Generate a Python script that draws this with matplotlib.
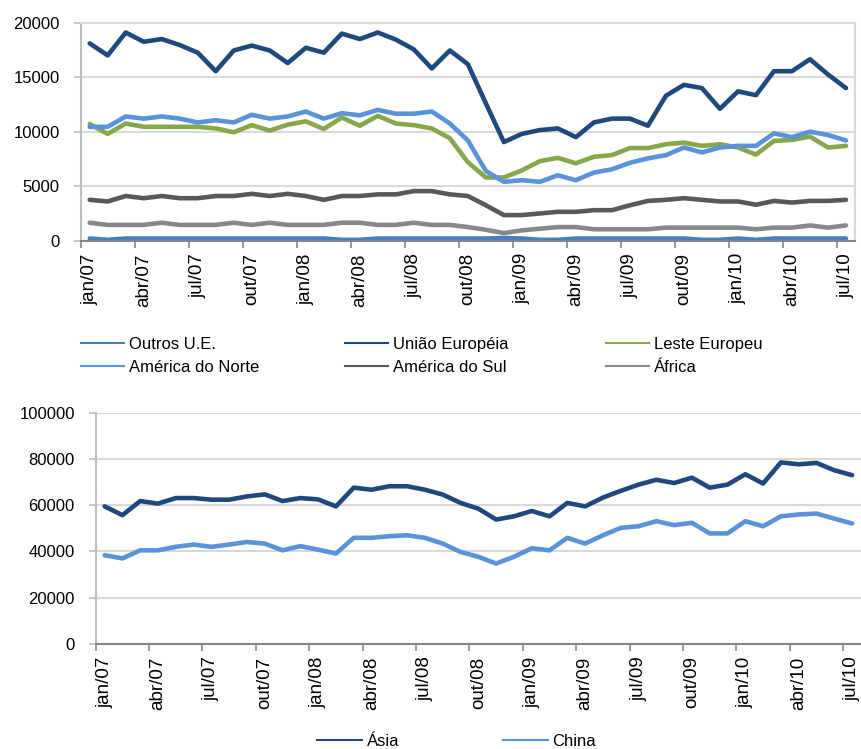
import matplotlib
matplotlib.use("Agg")
import matplotlib.pyplot as plt
from matplotlib.lines import Line2D
from matplotlib.ticker import FixedLocator, NullFormatter, FixedFormatter

plt.rcParams['font.family'] = ['Liberation Sans', 'DejaVu Sans']

months = ["jan", "fev", "mar", "abr", "mai", "jun", "jul", "ago", "set", "out", "nov", "dez"]
categories = [f"{months[i % 12]}/{7 + i // 12:02d}" for i in range(43)]
tick_labels = ["jan/07", "abr/07", "jul/07", "out/07", "jan/08", "abr/08", "jul/08",
               "out/08", "jan/09", "abr/09", "jul/09", "out/09", "jan/10", "abr/10", "jul/10"]

outros_ue = [200, 80, 200, 200, 200, 200, 200, 200, 200, 200, 200, 200, 200, 200, 80,
             80, 200, 200, 200, 200, 200, 200, 200, 250, 200, 80, 80, 200, 200, 200,
             200, 200, 200, 200, 80, 80, 200, 80, 200, 200, 200, 200, 200]
uniao_europeia = [18100, 17000, 19100, 18250, 18500, 17950, 17250, 15550, 17450, 17900,
                  17450, 16300, 17700, 17250, 19000, 18500, 19100, 18450, 17550, 15800,
                  17450, 16200, 12600, 9050, 9800, 10150, 10300, 9500, 10850, 11200,
                  11200, 10550, 13300, 14300, 14000, 12100, 13700, 13350, 15550, 15550,
                  16650, 15250, 14000]
leste_europeu = [10700, 9800, 10750, 10450, 10450, 10450, 10450, 10300, 9950, 10600,
                 10100, 10650, 10950, 10250, 11300, 10550, 11450, 10750, 10600, 10300,
                 9400, 7200, 5800, 5800, 6450, 7300, 7600, 7100, 7700, 7850,
                 8500, 8500, 8850, 9000, 8700, 8850, 8550, 7900, 9150, 9250,
                 9550, 8550, 8700]
america_norte = [10450, 10450, 11400, 11200, 11400, 11200, 10850, 11050, 10850, 11550,
                 11200, 11400, 11850, 11200, 11700, 11500, 12000, 11650, 11650, 11850,
                 10750, 9200, 6400, 5400, 5550, 5400, 6000, 5550, 6250, 6550,
                 7150, 7550, 7850, 8550, 8100, 8550, 8700, 8700, 9850, 9500,
                 10000, 9700, 9200]
america_sul = [3750, 3600, 4100, 3900, 4100, 3900, 3900, 4100, 4100, 4300,
               4100, 4300, 4100, 3750, 4100, 4100, 4250, 4250, 4550, 4550,
               4250, 4100, 3250, 2350, 2350, 2500, 2650, 2650, 2800, 2800,
               3250, 3650, 3750, 3900, 3750, 3600, 3600, 3300, 3650, 3500,
               3650, 3650, 3750]
africa = [1650, 1450, 1450, 1450, 1650, 1450, 1450, 1450, 1650, 1450,
          1650, 1450, 1450, 1450, 1650, 1650, 1450, 1450, 1650, 1450,
          1450, 1250, 1000, 700, 950, 1100, 1250, 1250, 1050, 1050,
          1050, 1050, 1200, 1200, 1200, 1200, 1200, 1050, 1200, 1200,
          1400, 1200, 1400]

asia = [59500, 55700, 61800, 60700, 63100, 63100, 62400, 62400, 63800, 64700,
        61800, 63100, 62500, 59500, 67600, 66700, 68200, 68200, 66700, 64600,
        61000, 58500, 53800, 55200, 57500, 55200, 61000, 59500, 63300, 66200,
        68900, 71000, 69600, 71900, 67600, 68900, 73400, 69400, 78500, 77700,
        78300, 75100, 73000]
china = [38400, 37000, 40500, 40500, 42000, 43000, 42000, 43000, 44100, 43400,
         40500, 42300, 40800, 39100, 45900, 45900, 46600, 47000, 45900, 43400,
         39800, 37700, 34800, 37700, 41400, 40500, 45900, 43400, 47000, 50200,
         50900, 53100, 51400, 52400, 47800, 47800, 53100, 50900, 55200, 56000,
         56400, 54200, 52100]

top_series = [
    ("Outros U.E.", outros_ue, "#4A7EBB"),
    ("União Européia", uniao_europeia, "#1F497D"),
    ("Leste Europeu", leste_europeu, "#86A84A"),
    ("América do Norte", america_norte, "#5B93DA"),
    ("América do Sul", america_sul, "#595959"),
    ("África", africa, "#888888"),
]
bottom_series = [
    ("Ásia", asia, "#1F497D"),
    ("China", china, "#5B93DA"),
]

W, H = 861, 749
fig = plt.figure(figsize=(W / 100, H / 100), dpi=100)

def frac(left, top, right, bottom):
    return [left / W, 1 - bottom / H, (right - left) / W, (bottom - top) / H]

ax1 = fig.add_axes(frac(80.7, 22.7, 855, 240.7))
ax2 = fig.add_axes(frac(95.7, 412.7, 861, 644))

x = list(range(len(categories)))
grid_c = "#D9D9D9"

def style(ax, ymax, ystep, box):
    ax.set_xlim(-0.5, len(categories) - 0.5)
    ax.set_ylim(0, ymax)
    ax.set_yticks(list(range(0, ymax + 1, ystep)))
    ax.yaxis.grid(True, color=grid_c, linewidth=1.5)
    ax.set_axisbelow(True)
    ax.xaxis.set_major_locator(FixedLocator([i for i in x if i % 3 == 0]))
    ax.xaxis.set_major_formatter(FixedFormatter(tick_labels))
    ax.xaxis.set_minor_locator(FixedLocator([-0.5 + 3 * k for k in range(15)]))
    ax.xaxis.set_minor_formatter(NullFormatter())
    ax.tick_params(axis='x', which='major', length=0, labelsize=13.5, pad=9,
                   labelrotation=90, colors="#000000")
    ax.tick_params(axis='x', which='minor', length=5, width=1.2, color="#868686")
    ax.tick_params(axis='y', length=5, width=1.2, color="#BFBFBF", labelsize=12, pad=10)
    ax.spines['left'].set_color("#BFBFBF")
    ax.spines['left'].set_linewidth(1.5)
    ax.spines['bottom'].set_color("#868686")
    ax.spines['bottom'].set_linewidth(1.5)
    for s in ('top', 'right'):
        if box:
            ax.spines[s].set_color(grid_c)
            ax.spines[s].set_linewidth(1.5)
        else:
            ax.spines[s].set_visible(False)

for name, vals, c in top_series:
    ax1.plot(x, vals, color=c, linewidth=3.3, solid_joinstyle='round',
             solid_capstyle='round', label=name)
for name, vals, c in bottom_series:
    ax2.plot(x, vals, color=c, linewidth=3.3, solid_joinstyle='round',
             solid_capstyle='round', label=name)

style(ax1, 20000, 5000, True)
style(ax2, 100000, 20000, False)

def handle(c):
    return Line2D([0], [0], color=c, linewidth=1.5)

# top legend: three columns placed individually
cols = [(80.5, [top_series[0], top_series[3]]),
        (344.6, [top_series[1], top_series[4]]),
        (606, [top_series[2], top_series[5]])]
for xpos, items in cols:
    fig.legend(handles=[handle(c) for _, _, c in items], labels=[n for n, _, _ in items],
               loc='upper left', bbox_to_anchor=(xpos / W, 1 - 336.5 / H),
               frameon=False, fontsize=12, handlelength=2.6, handletextpad=0.3,
               borderpad=0, borderaxespad=0, labelspacing=0.5)

fig.legend(handles=[handle(c) for _, _, c in bottom_series],
           labels=[n for n, _, _ in bottom_series],
           loc='upper left', bbox_to_anchor=(316.7 / W, 1 - 733.5 / H), ncol=2,
           frameon=False, fontsize=12, handlelength=2.7, handletextpad=0.3,
           borderpad=0, borderaxespad=0, columnspacing=6.2)

fig.savefig("out.png", dpi=100)
